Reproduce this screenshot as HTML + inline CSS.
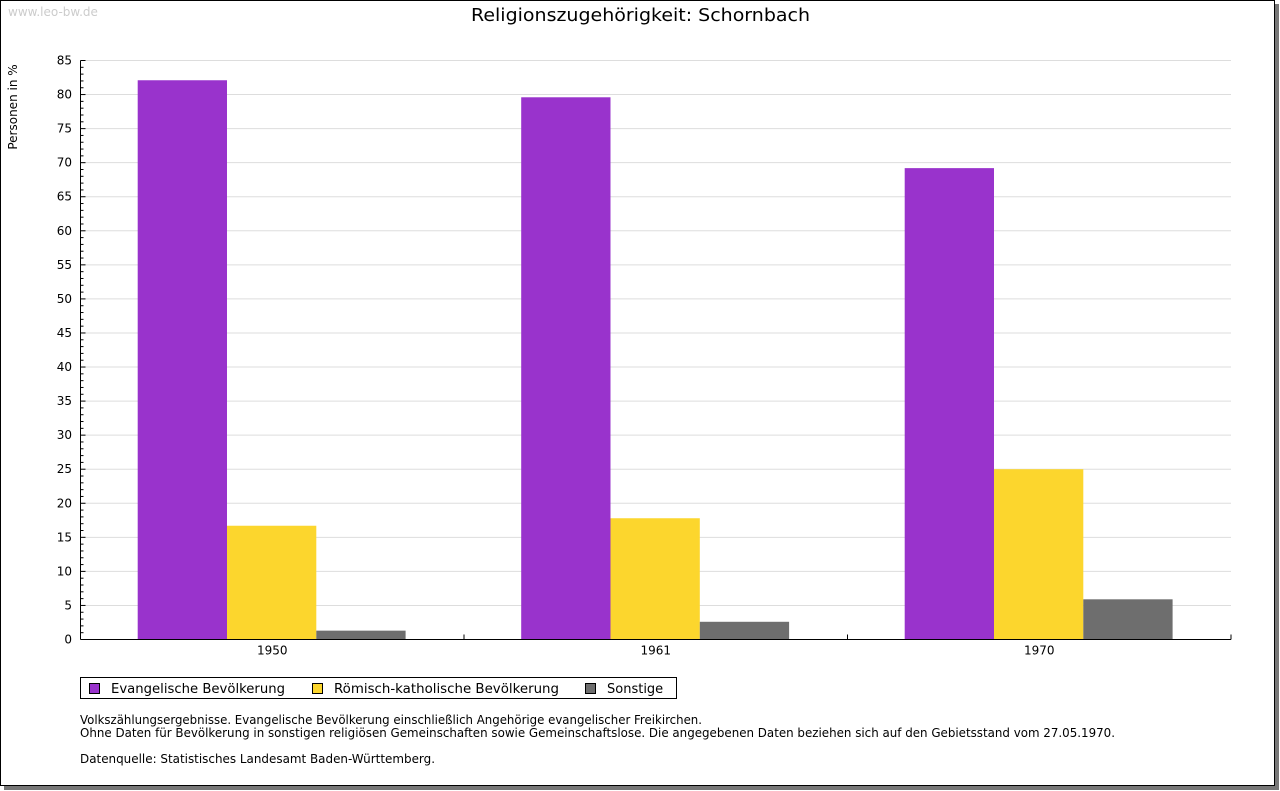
<!DOCTYPE html>
<html><head><meta charset="utf-8">
<style>
body{margin:0;background:#fff;font-family:"DejaVu Sans","Liberation Sans",sans-serif;}
#frame{position:absolute;left:0;top:0;width:1273px;height:784px;border:1px solid #000;background:#fff;box-shadow:4px 4px 0 #777;}
</style></head><body>
<div id="frame"></div>
<svg id="chart" width="1280" height="791" style="position:absolute;left:0;top:0" font-family="DejaVu Sans, Liberation Sans, sans-serif">
<text x="8" y="16" font-size="12" fill="#ccc">www.leo-bw.de</text>
<text x="471" y="21" font-size="18" textLength="339" lengthAdjust="spacingAndGlyphs" fill="#000">Religionszugehörigkeit: Schornbach</text>
<text transform="translate(17,107) rotate(-90)" font-size="12" text-anchor="middle">Personen in %</text>
<g id="grid"></g><g id="bars"></g><g id="axes"></g>
<g>
<rect x="80.5" y="677.5" width="596" height="21" fill="#fff" stroke="#000"/>
<rect x="89.5" y="683.5" width="10" height="10" fill="#9933cc" stroke="#000"/>
<text x="111" y="693" font-size="13" textLength="174" lengthAdjust="spacingAndGlyphs">Evangelische Bevölkerung</text>
<rect x="312.5" y="683.5" width="10" height="10" fill="#fcd62d" stroke="#000"/>
<text x="334" y="693" font-size="13" textLength="225" lengthAdjust="spacingAndGlyphs">Römisch-katholische Bevölkerung</text>
<rect x="585.5" y="683.5" width="10" height="10" fill="#6e6e6e" stroke="#000"/>
<text x="607" y="693" font-size="13">Sonstige</text>
</g>
<g font-size="12">
<text x="80" y="724" textLength="622" lengthAdjust="spacingAndGlyphs">Volkszählungsergebnisse. Evangelische Bevölkerung einschließlich Angehörige evangelischer Freikirchen.</text>
<text x="80" y="737" textLength="1035" lengthAdjust="spacingAndGlyphs">Ohne Daten für Bevölkerung in sonstigen religiösen Gemeinschaften sowie Gemeinschaftslose. Die angegebenen Daten beziehen sich auf den Gebietsstand vom 27.05.1970.</text>
<text x="80" y="763" textLength="355" lengthAdjust="spacingAndGlyphs">Datenquelle: Statistisches Landesamt Baden-Württemberg.</text>
</g>
</svg>
<script>
const categories=["1950","1961","1970"];
const evangelisch=[82.1,79.6,69.2];
const katholisch=[16.7,17.8,25.0];
const sonstige=[1.3,2.6,5.9];
const yTicks=[0,5,10,15,20,25,30,35,40,45,50,55,60,65,70,75,80,85];
const NS="http://www.w3.org/2000/svg";
const x0=80.5,x1=1231,y0=639.5,yTop=60.5,yMax=85;
const y=v=>y0-(v/yMax)*(y0-yTop);
const gw=(x1-x0)/categories.length;
function mk(t,a,p){const e=document.createElementNS(NS,t);for(const k in a)e.setAttribute(k,a[k]);p.appendChild(e);return e;}
const grid=document.getElementById('grid'),axes=document.getElementById('axes'),bars=document.getElementById('bars');
yTicks.forEach(v=>{
 if(v>0){const l=mk('line',{x1:x0,x2:x1,y1:y(v),y2:y(v),stroke:'#ddd'},grid);
 
 }
 const t=mk('text',{x:72,y:y(v)+4,'font-size':12,'text-anchor':'end'},axes);t.textContent=v;
 
 
 mk('line',{x1:x0,x2:x0+5,y1:y(v),y2:y(v),stroke:'#000'},axes);
});
for(let v=0;v<=yMax;v++){if(v%5)mk('line',{x1:x0,x2:x0+3,y1:y(v),y2:y(v),stroke:'#000'},axes);}
mk('line',{x1:x0,x2:x0,y1:yTop,y2:y0,stroke:'#000'},axes);
mk('line',{x1:x0,x2:x1,y1:y0,y2:y0,stroke:'#000'},axes);
const series=[[evangelisch,'#9933cc','evangelisch'],[katholisch,'#fcd62d','katholisch'],[sonstige,'#6e6e6e','sonstige']];
const bw=89.3,off=57.2;
categories.forEach((c,i)=>{
 const gx=x0+i*gw;
 mk('line',{x1:gx+gw,x2:gx+gw,y1:y0-5,y2:y0,stroke:'#000'},axes);
 const t=mk('text',{x:gx+gw/2,y:y0+15,'font-size':12,'text-anchor':'middle'},axes);t.textContent=c;
 
 
 series.forEach((s,j)=>{
  const v=s[0][i];
  const r=mk('rect',{x:gx+off+j*bw,y:y(v),width:bw,height:y0-y(v),fill:s[1]},bars);
  
  
 });
});
</script>
</body></html>
